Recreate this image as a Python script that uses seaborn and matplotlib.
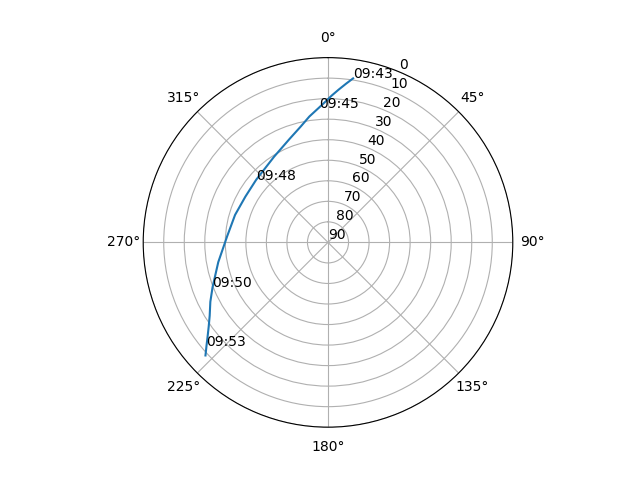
import numpy as np
import pandas as pd
import seaborn as sns
from matplotlib import pyplot as plt

# satellite pass, one sample every 30 s
times = pd.date_range("2024-01-01 09:43:00", periods=22, freq="30s")
azimuth = [8.7, 6.5, 4.0, 1.5, 359.0, 356.1, 351.6, 346.8, 339.5, 327.8, 311.0,
           299.0, 286.5, 273.5, 259.8, 248.8, 243.2, 238.2, 234.8, 232.0, 229.6, 227.3]
elevation = [9.2, 12.2, 15.4, 18.4, 21.4, 24.3, 28.0, 32.0, 36.3, 40.7, 43.6,
             44.0, 42.8, 40.8, 35.7, 29.7, 25.8, 22.2, 18.9, 15.6, 12.3, 8.8]
LABELEVERY = 5

theta = np.unwrap(np.radians(azimuth))

fig = plt.figure(figsize=(6.4, 4.8), dpi=100)
ax = fig.add_subplot(111, projection="polar")
ax.set_theta_zero_location("N")
ax.set_theta_direction(-1)

sns.lineplot(x=theta, y=elevation, ax=ax, sort=False, estimator=None)

for i in range(0, len(times), LABELEVERY):
    ax.text(theta[i], elevation[i], times[i].strftime("%H:%M"))

ax.set_rlim(90, 0)
ax.set_yticks(range(0, 91, 10))
ax.set_xlabel("")
ax.set_ylabel("")
ax.grid(True)

fig.savefig("out.png", dpi=100)
